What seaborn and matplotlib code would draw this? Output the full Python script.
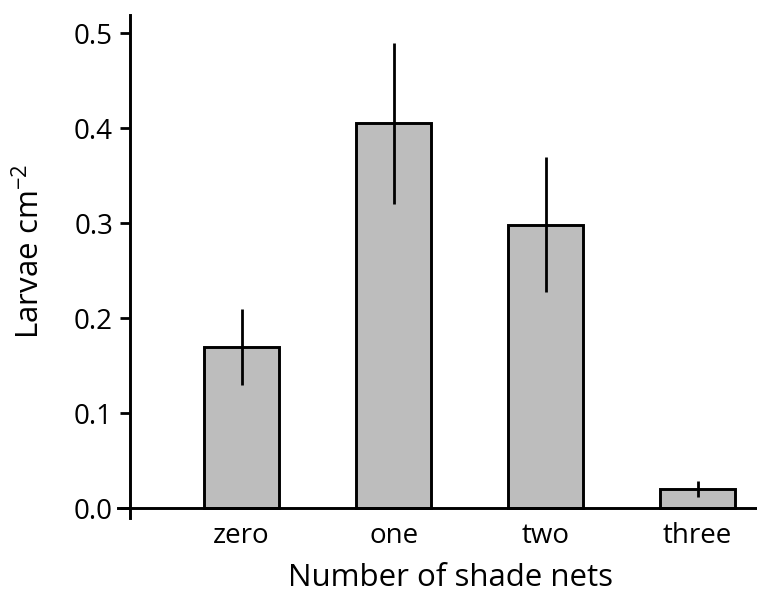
import matplotlib
matplotlib.use("Agg")
import matplotlib.pyplot as plt
import seaborn as sns
import pandas as pd

categories = ["zero", "one", "two", "three"]
means = [0.170, 0.405, 0.298, 0.020]
errors = [0.040, 0.085, 0.071, 0.0085]

sns.set_theme(style="white")
plt.rcParams["font.family"] = ["Open Sans", "DejaVu Sans"]
plt.rcParams["mathtext.default"] = "regular"

df = pd.DataFrame({"nets": categories, "larvae": means})

fig = plt.figure(figsize=(7.57, 5.98), dpi=100)
ax = fig.add_axes([118 / 757, 1 - 518 / 598, 1 - 118 / 757, (518 - 15) / 598])

sns.barplot(data=df, x="nets", y="larvae", order=categories, color="#bdbdbd",
            saturation=1, width=0.49, edgecolor="black", linewidth=2.1,
            errorbar=None, ax=ax)
ax.errorbar(x=list(range(len(categories))), y=means, yerr=errors, fmt="none",
            ecolor="black", elinewidth=2.0, capsize=0)

ax.set_xlim(-0.8125, 3.39)
ax.set_ylim(-0.0105, 0.519)
ax.set_yticks([0.0, 0.1, 0.2, 0.3, 0.4, 0.5])
ax.set_yticklabels(["0.0", "0.1", "0.2", "0.3", "0.4", "0.5"])

for s in ["top", "right"]:
    ax.spines[s].set_visible(False)
ax.spines["left"].set_position(("data", -0.735))
ax.spines["bottom"].set_position(("data", 0.0))
for s in ["left", "bottom"]:
    ax.spines[s].set_color("black")
    ax.spines[s].set_linewidth(2.1)

ax.tick_params(axis="y", direction="out", length=7, width=2.0, pad=5,
               labelsize=20, colors="black", left=True)
ax.tick_params(axis="x", length=0, pad=10, labelsize=20, colors="black")

ax.set_xlabel("Number of shade nets", fontsize=22.5, color="black")
ax.xaxis.set_label_coords(0.521, -0.09)
ax.set_ylabel("Larvae cm$^{-2}$", fontsize=22.5, color="black")
ax.yaxis.set_label_coords(-0.112, 0.529)

fig.savefig("out.png", dpi=100, facecolor="white")
